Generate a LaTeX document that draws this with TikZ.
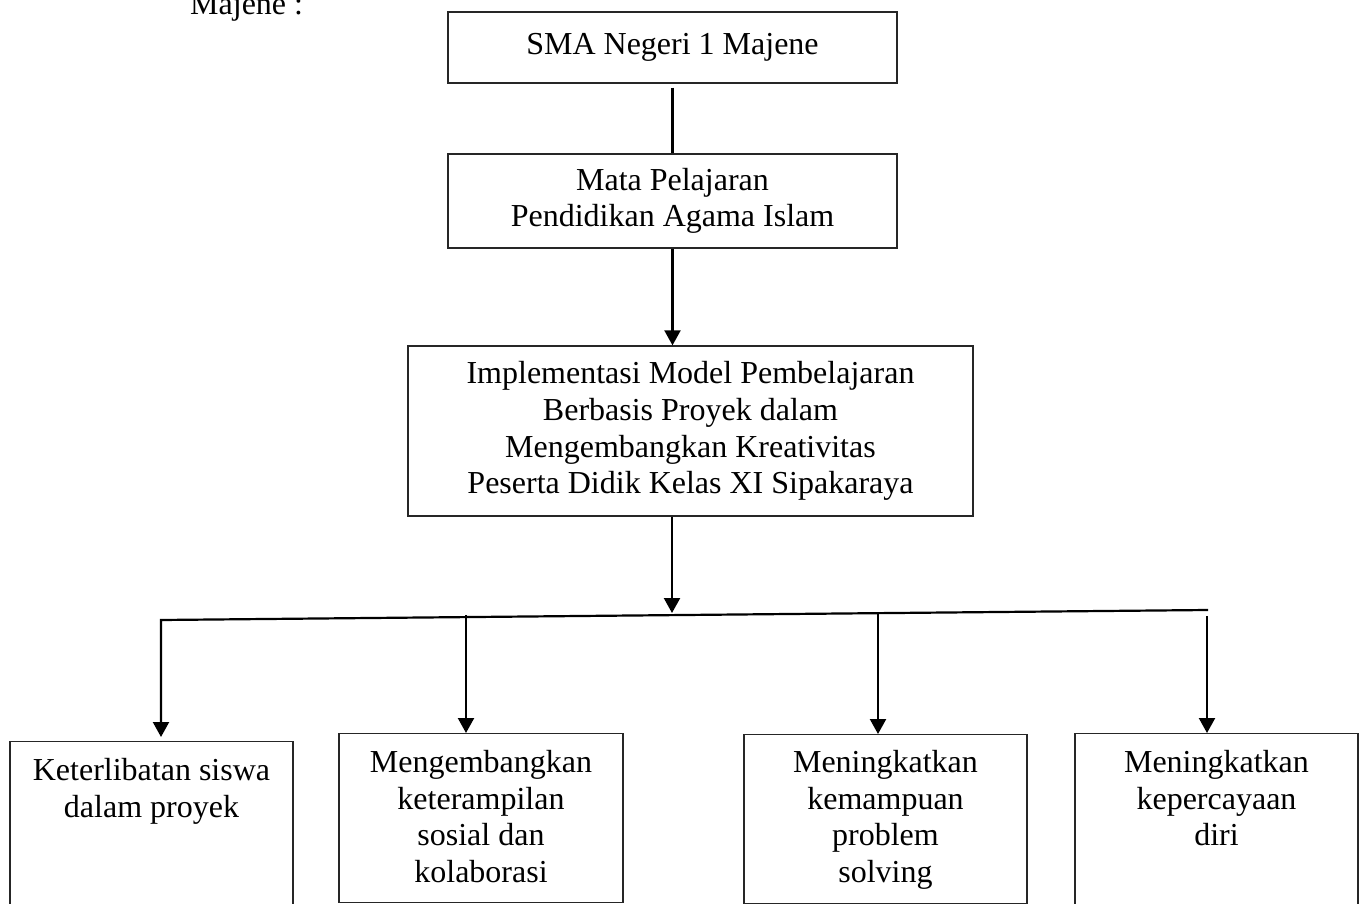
\documentclass[tikz,border=0pt]{standalone}
\usepackage{fontspec}
\setmainfont{Liberation Serif}
\usetikzlibrary{arrows.meta}
\begin{document}
\begin{tikzpicture}[x=1pt,y=-1pt,
  box/.style={draw=black!85, line width=1.3pt, inner sep=0pt},
  txt/.style={font=\fontsize{32}{36.7}\selectfont, align=center, inner sep=0pt},
  conn/.style={line width=2.2pt},
  arr/.style={conn, -{Triangle[length=15pt,width=16pt]}}]
\useasboundingbox (0,0) rectangle (1363,904);
% title fragment
\node[txt, anchor=base west] (maj) at (190,15) {Majene :};
% main boxes
\node[box, txt, minimum width=449pt, minimum height=71pt] (b1) at (672.5,47.5) {SMA Negeri 1 Majene};
\node[box, txt, minimum width=449pt, minimum height=94pt] (b2) at (672.5,201) {Mata Pelajaran\\Pendidikan Agama Islam};
\node[box, txt, minimum width=565pt, minimum height=170pt] (b3) at (690.5,431) {Implementasi Model Pembelajaran\\Berbasis Proyek dalam\\Mengembangkan Kreativitas\\Peserta Didik Kelas XI Sipakaraya};
% bottom boxes
\node[box, minimum width=283pt, minimum height=180pt, anchor=north] (b4) at (151.5,741) {};
\node[box, minimum width=284pt, minimum height=169pt, anchor=north] (b5) at (481,733) {};
\node[box, minimum width=283pt, minimum height=169pt, anchor=north] (b6) at (885.5,734) {};
\node[box, minimum width=283pt, minimum height=180pt, anchor=north] (b7) at (1216.5,733) {};
\node[txt, anchor=north] (t4) at ([yshift=-17pt]b4.north) {Keterlibatan siswa\\dalam proyek};
\node[txt, anchor=north] (t5) at ([yshift=-17pt]b5.north) {Mengembangkan\\keterampilan\\sosial dan\\kolaborasi};
\node[txt, anchor=north] (t6) at ([yshift=-16pt]b6.north) {Meningkatkan\\kemampuan\\problem\\solving};
\node[txt, anchor=north] (t7) at ([yshift=-17pt]b7.north) {Meningkatkan\\kepercayaan\\diri};
% connector points
\coordinate (hub) at (672,613);
\coordinate (busL) at (161,620);
\coordinate (busR) at (1208,610);
\coordinate (e4) at (161,737);
\coordinate (s5) at (466,615);
\coordinate (s6) at (878,614);
\coordinate (s7) at (1207,616);
% connectors
\draw[conn] ([yshift=-4pt]b1.south) -- (b2.north);
\draw[arr] (b2.south) -- (b2.south |- b3.north);
\draw[arr] (hub |- b3.south) -- (hub);
\draw[arr] (busR) -- (busL) -- (e4);
\draw[arr] (s5) -- (s5 |- b5.north);
\draw[arr] (s6) -- (s6 |- b6.north);
\draw[arr] (s7) -- (s7 |- b7.north);
\end{tikzpicture}
\end{document}
